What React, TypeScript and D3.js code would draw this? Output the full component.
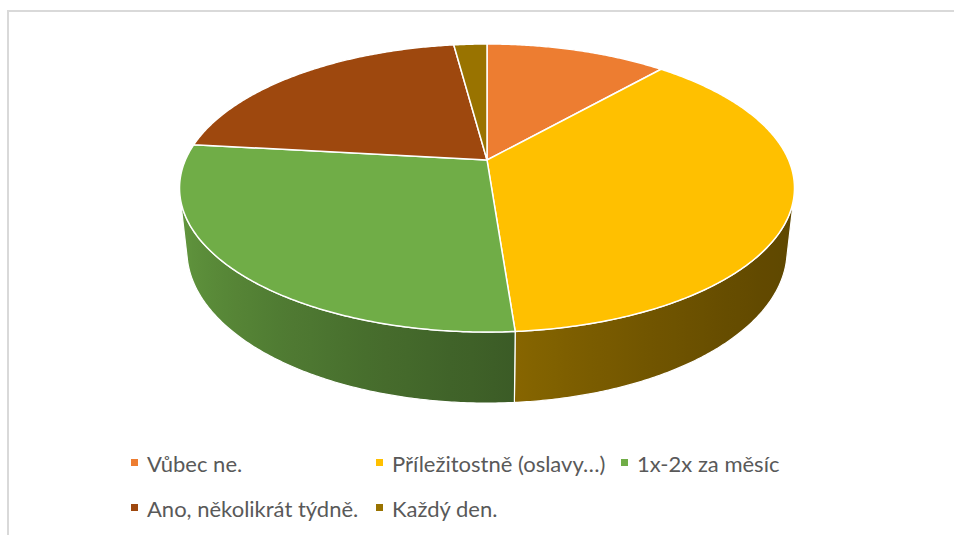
import React from "react";
import * as d3 from "d3";

const categories = [
  "Vůbec ne.",
  "Příležitostně (oslavy…)",
  "1x-2x za měsíc",
  "Ano, několikrát týdně.",
  "Každý den.",
];
const values = [11.5, 37.3, 28.0, 21.1, 2.1];
const colors = ["#ED7D31", "#FFC000", "#70AD47", "#9E480E", "#997300"];

const W = 954;
const H = 535;
const CX = 487;
const CY = 160;
const S = 301.6;
const F = 4.565;
const SIN_T = 0.4595;
const COS_T = Math.sqrt(1 - SIN_T * SIN_T);
const THICK = 0.235;

function project(x: number, y: number, z: number): [number, number] {
  const Y = y * COS_T + z * SIN_T;
  const D = z * COS_T - y * SIN_T;
  const k = F / (F + D);
  return [CX + S * x * k, CY - S * Y * k];
}

function arcPoints(a0: number, a1: number, y: number): [number, number][] {
  const n = Math.max(2, Math.ceil((a1 - a0) / (Math.PI / 360)));
  const pts: [number, number][] = [];
  for (let i = 0; i <= n; i++) {
    const t = a0 + ((a1 - a0) * i) / n;
    pts.push(project(Math.sin(t), y, Math.cos(t)));
  }
  return pts;
}

function brightness(t: number) {
  return 0.656 - 0.2577 * Math.sin(t) + 0.1085 * Math.cos(t);
}

const frontLimit = Math.acos(-1 / (F * COS_T));
const TH_MIN = frontLimit;
const TH_MAX = 2 * Math.PI - frontLimit;

export default function App() {
  const pie = d3.pie<number>().sort(null).value((d) => d);
  const arcs = pie(values);
  const line = d3.line();

  const sides: any[] = [];
  arcs.forEach((a, i) => {
    const lo = Math.max(a.startAngle, TH_MIN);
    const hi = Math.min(a.endAngle, TH_MAX);
    if (hi <= lo) return;
    const top = arcPoints(lo, hi, 0);
    const bot = arcPoints(lo, hi, -THICK).reverse();
    const all = [...top, ...bot];
    const xs = all.map((p) => p[0]);
    const xmin = d3.min(xs)!;
    const xmax = d3.max(xs)!;
    const base = d3.rgb(colors[i]);
    const stops: { off: number; col: string }[] = [];
    const n = 24;
    for (let j = 0; j <= n; j++) {
      const t = lo + ((hi - lo) * j) / n;
      const px = project(Math.sin(t), 0, Math.cos(t))[0];
      const b = brightness(t);
      const c = d3.rgb(base.r * b, base.g * b, base.b * b);
      stops.push({ off: Math.min(1, Math.max(0, (px - xmin) / (xmax - xmin || 1))), col: c.formatHex() });
    }
    stops.sort((p, q) => p.off - q.off);
    sides.push({ i, d: line(all)! + "Z", xmin, xmax, stops });
  });

  const tops = arcs.map((a, i) => {
    const pts = [project(0, 0, 0), ...arcPoints(a.startAngle, a.endAngle, 0)];
    return { i, d: line(pts)! + "Z" };
  });

  const colW = 245;
  const legendX = 131;
  const rowY = [463, 508];
  const perRow = 3;

  return (
    <div style={{ position: "fixed", left: 0, top: 0 }}>
      <svg width={W} height={H} style={{ display: "block", background: "#fff" }}>
        <defs>
          {sides.map((s) => (
            <linearGradient
              key={s.i}
              id={`side${s.i}`}
              gradientUnits="userSpaceOnUse"
              x1={s.xmin}
              x2={s.xmax}
              y1={0}
              y2={0}
            >
              {s.stops.map((st: any, k: number) => (
                <stop key={k} offset={st.off} stopColor={st.col} />
              ))}
            </linearGradient>
          ))}
        </defs>
        <rect x={8} y={11} width={W + 20} height={H + 20} fill="none" stroke="#d9d9d9" strokeWidth={2} />
        <g>
          {sides.map((s) => (
            <path key={s.i} d={s.d} fill={`url(#side${s.i})`} stroke="#fff" strokeWidth={1.2} strokeLinejoin="round" />
          ))}
        </g>
        <g>
          {tops.map((t) => (
            <path key={t.i} d={t.d} fill={colors[t.i]} stroke="#fff" strokeWidth={1.5} strokeLinejoin="round" />
          ))}
        </g>
        <g fontFamily="Lato, 'Open Sans', sans-serif" fontSize={22} fill="#595959">
          {categories.map((c, i) => {
            const col = i % perRow;
            const row = Math.floor(i / perRow);
            const x = legendX + col * colW;
            const y = rowY[row];
            return (
              <g key={c} transform={`translate(${x},${y})`}>
                <rect x={0} y={-4} width={7} height={7} fill={colors[i]} />
                <text x={16} y={0} dominantBaseline="central">
                  {c}
                </text>
              </g>
            );
          })}
        </g>
      </svg>
    </div>
  );
}
